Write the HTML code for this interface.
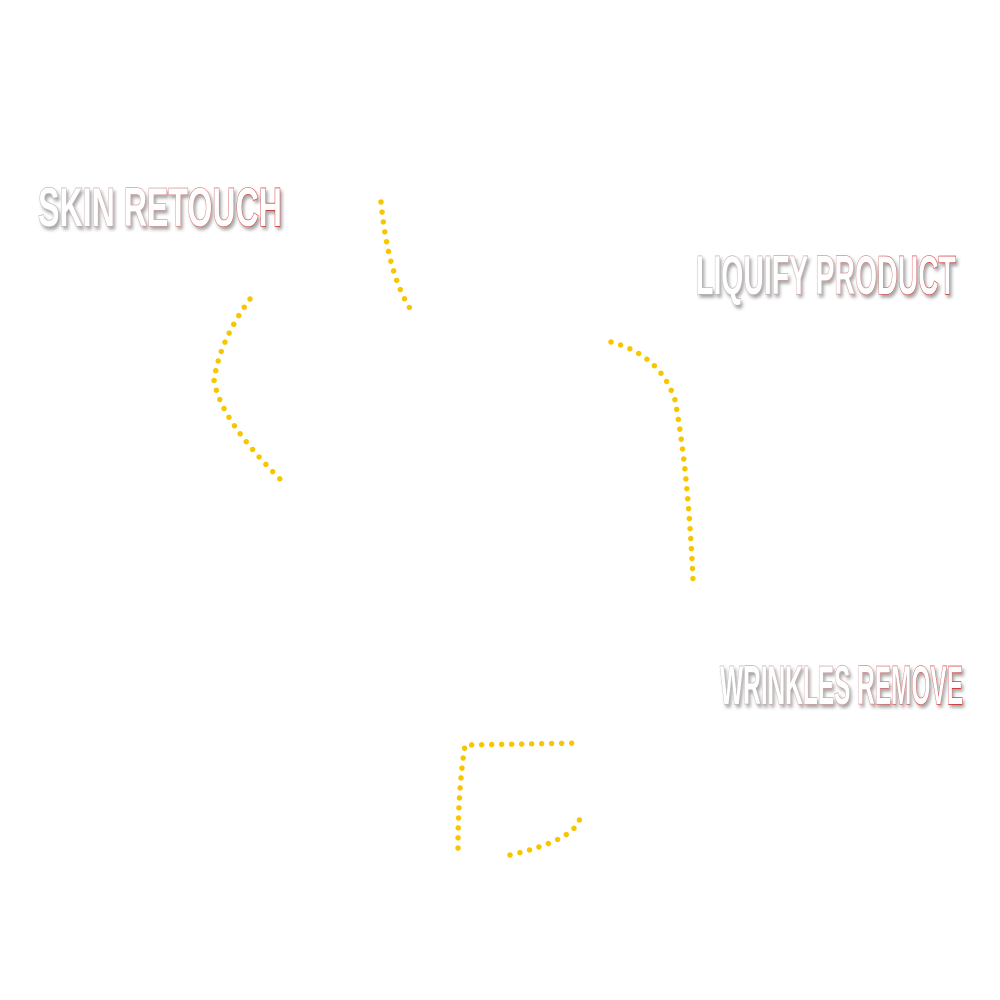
<!DOCTYPE html>
<html><head><style>
html,body{margin:0;padding:0;background:#fff;}
svg{display:block;}
.t{font-family:"Liberation Sans Narrow","Liberation Sans",sans-serif;font-weight:bold;font-size:55px;fill:#fff;stroke-width:1.2;paint-order:stroke;}
</style></head><body>
<svg width="1000" height="1000" viewBox="0 0 1000 1000">
<defs>
<linearGradient id="g" x1="0" x2="1"><stop offset="0" stop-color="#aaa"/><stop offset="0.5" stop-color="#c88"/><stop offset="1" stop-color="#c00"/></linearGradient>
<filter id="s"><feDropShadow dx="2" dy="3" stdDeviation="1.5" flood-color="#000" flood-opacity="0.35"/></filter>
</defs>
<g filter="url(#s)">
<text class="t" x="38" y="226" textLength="244" lengthAdjust="spacingAndGlyphs" style="stroke:url(#g)">SKIN RETOUCH</text>
<text class="t" x="696" y="294" textLength="260" lengthAdjust="spacingAndGlyphs" style="stroke:url(#g)">LIQUIFY PRODUCT</text>
<text class="t" x="720" y="704" textLength="243" lengthAdjust="spacingAndGlyphs" style="stroke:url(#g)">WRINKLES REMOVE</text>
</g>
<g fill="none" stroke="#f7c600" stroke-width="5.5" stroke-linecap="round" stroke-dasharray="0 10">
<path d="M381 202 Q388 275 411 310"/>
<path d="M250 299 Q220 340 214 380 Q220 420 283 482"/>
<path d="M611 342 Q660 355 675 400 Q688 470 693 580"/>
<path d="M458 848 Q458 790 465 745 L581 743"/>
<path d="M510 855 Q575 840 580 818"/>
</g>
</svg>
</body></html>
